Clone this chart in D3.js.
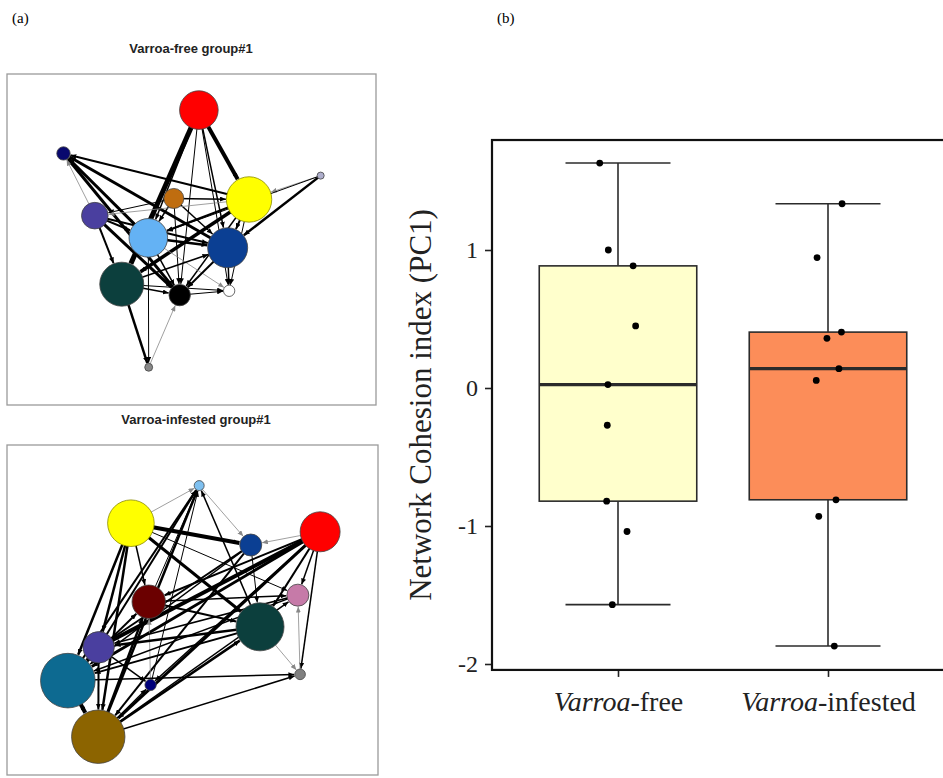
<!DOCTYPE html>
<html>
<head>
<meta charset="utf-8">
<script src="https://cdn.jsdelivr.net/npm/d3@7"></script>
<style>
  body { margin: 0; background: #fff; }
  svg { display: block; }
</style>
</head>
<body>
<div id="figure"></div>
<script>
// ---- (b) box plot data ----
const groups = ['Varroa-free', 'Varroa-infested'];
const freeValues = [1.63, 1.0, 0.885, 0.45, 0.025, -0.27, -0.82, -1.04, -1.57];
const infestedValues = [1.335, 0.945, 0.405, 0.36, 0.14, 0.055, -0.81, -0.93, -1.87];
// horizontal jitter of each point, as a fraction of the group step
const freeJitter = [-0.087, -0.046, 0.072, 0.084, -0.048, -0.051, -0.054, 0.043, -0.027];
const infestedJitter = [0.067, -0.052, 0.064, -0.005, 0.052, -0.056, 0.038, -0.044, 0.03];
const yTicks = [-2, -1, 0, 1];
const yLimits = [-2.043, 1.797];
const boxColors = ['#ffffcc', '#fc8d59'];

// ---- (a) network data: [id, layoutX, layoutY, strength] in 0-100 layout units ----
const freeNodes = [
    ['R', 52.0, 10.9, 47.5], ['N', 15.3, 24.0, 5.7], ['L', 85.0, 30.7, 1.6],
    ['O', 45.2, 37.6, 12.8], ['Y', 65.6, 37.9, 65.7], ['S', 23.8, 42.8, 22.6],
    ['B', 38.3, 49.5, 47.5], ['D', 59.8, 52.5, 51.0], ['T', 31.1, 63.5, 61.7],
    ['K', 46.8, 66.8, 14.6], ['W', 60.2, 65.5, 4.1], ['G', 38.4, 88.6, 2.0]
];
const freeColors = {R: '#ff0000', N: '#08086e', L: '#aeaecc', O: '#bf6d10', Y: '#ffff00', S: '#4a3f9f',
    B: '#64b2f4', D: '#0b3f93', T: '#0c3f3d', K: '#000000', W: '#ffffff', G: '#888888'};
// [source, target, weight]
const freeEdges = [
    ['R', 'T', 5], ['R', 'Y', 4], ['R', 'K', 1], ['R', 'D', 1.5], ['R', 'W', 1], ['R', 'B', 1.5],
    ['Y', 'N', 2], ['D', 'N', 3], ['K', 'N', 3], ['S', 'N', 0.8], ['B', 'N', 3],
    ['L', 'Y', 0.8], ['L', 'D', 2.5], ['L', 'B', 1],
    ['O', 'Y', 1.5], ['O', 'S', 1], ['O', 'D', 1.5], ['O', 'B', 1.5], ['O', 'K', 1],
    ['Y', 'S', 0.8], ['Y', 'B', 2], ['Y', 'T', 3.5], ['Y', 'D', 2], ['Y', 'K', 1.5], ['Y', 'W', 1],
    ['S', 'T', 2], ['S', 'K', 3], ['S', 'D', 2], ['S', 'B', 2],
    ['B', 'D', 2.5], ['B', 'K', 1.5], ['B', 'W', 0.8], ['B', 'G', 1],
    ['T', 'K', 1.5], ['T', 'G', 2.5], ['T', 'D', 1.5], ['T', 'W', 1],
    ['G', 'K', 0.8], ['K', 'W', 1], ['D', 'K', 2], ['D', 'W', 1.5]
];

const infestedNodes = [
    ['lb', 51.8, 12.3, 3.2], ['Y', 33.4, 23.7, 69.2], ['R', 84.4, 26.3, 51.0],
    ['D', 65.7, 30.3, 15.4], ['DR', 38.2, 47.5, 35.6], ['P', 78.4, 45.5, 15.4],
    ['T', 68.2, 55.1, 73.5], ['S', 24.7, 61.3, 31.4], ['SB', 16.4, 71.4, 95.0],
    ['N', 38.7, 72.7, 4.1], ['G', 79.0, 69.5, 3.6], ['GD', 24.6, 88.4, 90.9]
];
const infestedColors = {lb: '#7ec0f0', Y: '#ffff00', R: '#ff0000', D: '#0b3f93', DR: '#6b0000', P: '#c67aa8',
    T: '#0c3f3d', S: '#4a3f9f', SB: '#0d6a91', N: '#00007a', G: '#808080', GD: '#8c6400'};
const infestedEdges = [
    ['Y', 'lb', 0.8], ['Y', 'D', 4], ['Y', 'T', 3], ['Y', 'DR', 1.5], ['Y', 'S', 2.5], ['Y', 'SB', 2.5],
    ['Y', 'GD', 2.5], ['Y', 'P', 1],
    ['lb', 'D', 0.8], ['T', 'lb', 1.5], ['S', 'lb', 2], ['SB', 'lb', 2], ['GD', 'lb', 2.5], ['DR', 'lb', 1], ['N', 'lb', 1],
    ['R', 'D', 0.8], ['R', 'DR', 2], ['R', 'S', 4], ['R', 'SB', 3], ['R', 'GD', 3], ['R', 'T', 2],
    ['R', 'P', 1.5], ['R', 'G', 1.5], ['R', 'N', 1.5],
    ['D', 'S', 2], ['D', 'GD', 2], ['D', 'SB', 1.5], ['D', 'T', 1],
    ['DR', 'T', 2], ['DR', 'P', 1.5], ['SB', 'DR', 2], ['GD', 'DR', 2.5], ['N', 'DR', 0.8],
    ['G', 'P', 0.8], ['P', 'S', 1.5], ['P', 'SB', 1.5],
    ['T', 'G', 0.8], ['T', 'S', 2.5], ['T', 'SB', 2], ['GD', 'T', 2.5],
    ['S', 'GD', 2], ['S', 'SB', 3], ['S', 'N', 1.5],
    ['SB', 'G', 1.5], ['SB', 'GD', 4], ['GD', 'N', 1.5], ['GD', 'G', 1.5], ['GD', 'P', 1.5]
];

let width = 943,
    height = 778;

let svg = d3.select('#figure')
    .append('svg')
    .attr('width', width)
    .attr('height', height);

let defs = svg.append('defs');
addArrow('arrow-black', '#000');
addArrow('arrow-gray', '#888');

// Panel letters
svg.append('text').attr('x', 12).attr('y', 23).text('(a)')
    .style('font-family', '"Liberation Serif", serif').style('font-size', '15px');
svg.append('text').attr('x', 497).attr('y', 23).text('(b)')
    .style('font-family', '"Liberation Serif", serif').style('font-size', '15px');

drawNetwork(freeNodes, freeEdges, freeColors, {x0: 7, y0: 74, x1: 376, y1: 405},
    'Varroa-free group#1', 191, 53);
drawNetwork(infestedNodes, infestedEdges, infestedColors, {x0: 7, y0: 445, x1: 378, y1: 775},
    'Varroa-infested group#1', 196, 424);
drawBoxPlot();

/**
 * Adds a small arrow marker with a fixed size in pixels.
 */
function addArrow(id, color) {
    defs.append('marker')
        .attr('id', id)
        .attr('viewBox', '0 -3 7 6')
        .attr('refX', 7)
        .attr('refY', 0)
        .attr('markerWidth', 6)
        .attr('markerHeight', 5)
        .attr('markerUnits', 'userSpaceOnUse')
        .attr('orient', 'auto')
        .append('path')
            .attr('d', 'M0,-3L7,0L0,3Z')
            .attr('fill', color);
}

/**
 * Draws one directed network inside a grey frame.
 *
 * @param {Array} nodes [id, layoutX, layoutY, strength] rows.
 * @param {Array} edges [source, target, weight] rows.
 */
function drawNetwork(nodes, edges, colors, frame, title, titleX, titleY) {
    let x = d3.scaleLinear().domain([0, 100]).range([frame.x0, frame.x1]);
    let y = d3.scaleLinear().domain([0, 100]).range([frame.y0, frame.y1]);
    let r = d3.scaleSqrt().domain([0, 100]).range([0, 28]);

    svg.append('text')
        .attr('x', titleX)
        .attr('y', titleY)
        .attr('text-anchor', 'middle')
        .style('font-family', '"Liberation Sans", Arial, sans-serif')
        .style('font-weight', 'bold')
        .style('font-size', '13px')
        .style('fill', '#222')
        .text(title);

    svg.append('rect')
        .attr('x', frame.x0)
        .attr('y', frame.y0)
        .attr('width', frame.x1 - frame.x0)
        .attr('height', frame.y1 - frame.y0)
        .attr('fill', 'none')
        .attr('stroke', '#9a9a9a')
        .attr('stroke-width', 1.3);

    let byId = {};
    nodes.forEach(function(n) {
        byId[n[0]] = {x: x(n[1]), y: y(n[2]), r: r(n[3])};
    });

    let g = svg.append('g');
    g.selectAll('line')
        .data(edges)
        .enter()
        .append('line')
            .attr('x1', d => byId[d[0]].x)
            .attr('y1', d => byId[d[0]].y)
            .attr('x2', function(d) {
                let s = byId[d[0]], t = byId[d[1]];
                let len = Math.hypot(t.x - s.x, t.y - s.y);
                return t.x - (t.x - s.x) / len * (t.r + 0.5);
            })
            .attr('y2', function(d) {
                let s = byId[d[0]], t = byId[d[1]];
                let len = Math.hypot(t.x - s.x, t.y - s.y);
                return t.y - (t.y - s.y) / len * (t.r + 0.5);
            })
            .attr('stroke', d => d[2] < 1 ? '#888' : '#000')
            .attr('stroke-width', d => d[2])
            .attr('marker-end', d => d[2] < 1 ? 'url(#arrow-gray)' : 'url(#arrow-black)');

    g.selectAll('circle')
        .data(nodes)
        .enter()
        .append('circle')
            .attr('cx', d => x(d[1]))
            .attr('cy', d => y(d[2]))
            .attr('r', d => r(d[3]))
            .attr('fill', d => colors[d[0]])
            .attr('stroke', d => d[0] === 'Y' ? '#8a8a00' : '#444')
            .attr('stroke-width', 0.8);
}

/**
 * Draws the box plot of panel (b) with jittered points.
 */
function drawBoxPlot() {
    let left = 492,
        right = 954;
    let x = d3.scalePoint().domain(groups).range([left, right]).padding(0.6);
    let y = d3.scaleLinear().domain([-2, 1]).range([664, 250]);
    let step = x.step();
    let top = y(yLimits[1]),
        bottom = y(yLimits[0]);
    let serif = '"Liberation Serif", "Times New Roman", serif';

    let series = [freeValues, infestedValues];
    let jitter = [freeJitter, infestedJitter];

    let g = svg.append('g');

    series.forEach(function(values, i) {
        let cx = x(groups[i]);
        let sorted = values.slice().sort(d3.ascending);
        let q1 = d3.quantile(sorted, 0.25),
            med = d3.quantile(sorted, 0.5),
            q3 = d3.quantile(sorted, 0.75);
        let iqr = q3 - q1;
        let lo = d3.min(sorted.filter(v => v >= q1 - 1.5 * iqr)),
            hi = d3.max(sorted.filter(v => v <= q3 + 1.5 * iqr));

        // whiskers and caps
        g.append('line').attr('x1', cx).attr('x2', cx).attr('y1', y(q3)).attr('y2', y(hi))
            .attr('stroke', '#2b2b2b').attr('stroke-width', 1.6);
        g.append('line').attr('x1', cx).attr('x2', cx).attr('y1', y(q1)).attr('y2', y(lo))
            .attr('stroke', '#2b2b2b').attr('stroke-width', 1.6);
        [lo, hi].forEach(function(v) {
            g.append('line')
                .attr('x1', cx - step * 0.25).attr('x2', cx + step * 0.25)
                .attr('y1', y(v)).attr('y2', y(v))
                .attr('stroke', '#2b2b2b').attr('stroke-width', 1.6);
        });

        g.append('rect')
            .attr('x', cx - step * 0.375)
            .attr('y', y(q3))
            .attr('width', step * 0.75)
            .attr('height', y(q1) - y(q3))
            .attr('fill', boxColors[i])
            .attr('stroke', '#2b2b2b')
            .attr('stroke-width', 1.6);
        g.append('line')
            .attr('x1', cx - step * 0.375).attr('x2', cx + step * 0.375)
            .attr('y1', y(med)).attr('y2', y(med))
            .attr('stroke', '#2b2b2b').attr('stroke-width', 3.2);

        g.selectAll('circle.pt' + i)
            .data(values)
            .enter()
            .append('circle')
                .attr('class', 'pt' + i)
                .attr('cx', (d, j) => cx + jitter[i][j] * step)
                .attr('cy', d => y(d))
                .attr('r', 3.4)
                .attr('fill', '#000');
    });

    // Axes
    let yAxis = g.append('g')
        .attr('transform', 'translate(' + left + ',0)')
        .call(d3.axisLeft(y).tickValues(yTicks).tickSize(7).tickPadding(7).tickFormat(d => String(d)));
    yAxis.select('.domain').remove();
    yAxis.selectAll('line').attr('stroke', '#222').attr('stroke-width', 1.6);
    yAxis.selectAll('text')
        .style('font-family', serif).style('font-size', '24px').style('fill', '#222');

    let xAxis = g.append('g')
        .attr('transform', 'translate(0,' + bottom + ')')
        .call(d3.axisBottom(x).tickSize(7).tickPadding(14));
    xAxis.select('.domain').remove();
    xAxis.selectAll('line').attr('stroke', '#222').attr('stroke-width', 1.6);
    xAxis.selectAll('text')
        .style('font-family', serif).style('font-size', '28px').style('fill', '#222')
        .each(function(d) {
            let t = d3.select(this).text(null);
            let parts = d.split('-');
            t.append('tspan').style('font-style', 'italic').text(parts[0]);
            t.append('tspan').text('-' + parts[1]);
        });

    // Panel border
    g.append('rect')
        .attr('x', left)
        .attr('y', top)
        .attr('width', right - left)
        .attr('height', bottom - top)
        .attr('fill', 'none')
        .attr('stroke', '#111')
        .attr('stroke-width', 2.2);

    svg.append('text')
        .attr('transform', 'translate(431,' + ((top + bottom) / 2) + ') rotate(-90)')
        .attr('text-anchor', 'middle')
        .style('font-family', serif)
        .style('font-size', '31px')
        .style('fill', '#222')
        .text('Network Cohesion index (PC1)');
}
</script>
</body>
</html>
